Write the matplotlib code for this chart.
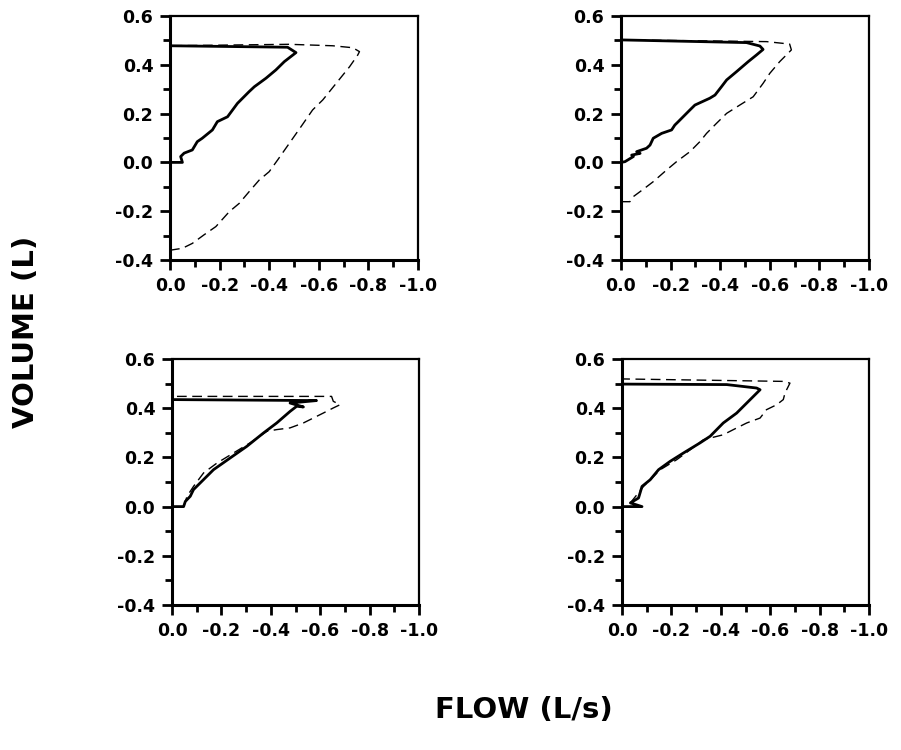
import matplotlib
matplotlib.use("Agg")
import matplotlib.pyplot as plt
from matplotlib.ticker import MultipleLocator

# ---- data (flow L/s, volume L) ----
p1_solid_flow = [0, -0.05, -0.043, -0.057, -0.09, -0.11, -0.13, -0.171, -0.191, -0.232, -0.272, -0.319,
                 -0.34, -0.387, -0.427, -0.461, -0.508, -0.474, 0.0]
p1_solid_vol = [0, 0.0, 0.024, 0.038, 0.051, 0.085, 0.099, 0.133, 0.167, 0.187, 0.242, 0.29,
                0.31, 0.345, 0.379, 0.413, 0.45, 0.472, 0.478]
p1_dash_flow = [0, -0.05, -0.09, -0.137, -0.185, -0.239, -0.279, -0.319, -0.36, -0.4, -0.434, -0.481,
                -0.528, -0.575, -0.616, -0.67, -0.724, -0.757, -0.764, -0.737, -0.656, -0.48, 0.0]
p1_dash_vol = [-0.36, -0.352, -0.332, -0.297, -0.263, -0.202, -0.168, -0.12, -0.072, -0.038, 0.01, 0.078,
               0.146, 0.215, 0.256, 0.324, 0.392, 0.44, 0.454, 0.47, 0.478, 0.484, 0.478]

p2_solid_flow = [0, -0.016, -0.05, -0.043, -0.077, -0.063, -0.103, -0.117, -0.13, -0.164, -0.204, -0.217,
                 -0.231, -0.278, -0.298, -0.358, -0.379, -0.405, -0.426, -0.466, -0.513, -0.546, -0.573,
                 -0.56, -0.506, 0.0]
p2_solid_vol = [0, 0.003, 0.024, 0.03, 0.037, 0.044, 0.058, 0.071, 0.099, 0.119, 0.133, 0.153,
                0.167, 0.215, 0.235, 0.263, 0.276, 0.31, 0.338, 0.372, 0.413, 0.44, 0.463,
                0.477, 0.491, 0.502]
p2_dash_flow = [0, -0.036, -0.05, -0.09, -0.13, -0.184, -0.224, -0.278, -0.318, -0.345, -0.385, -0.426,
                -0.479, -0.533, -0.573, -0.6, -0.64, -0.687, -0.68, -0.587, 0.0]
p2_dash_vol = [-0.161, -0.161, -0.14, -0.11, -0.079, -0.031, 0.003, 0.044, 0.085, 0.119, 0.16, 0.201,
               0.235, 0.269, 0.324, 0.365, 0.413, 0.461, 0.485, 0.495, 0.502]

p3_solid_flow = [0, -0.047, -0.054, -0.074, -0.087, -0.114, -0.168, -0.236, -0.303, -0.37, -0.424,
                 -0.478, -0.505, -0.532, -0.478, -0.585, 0.0]
p3_solid_vol = [0, 0.0, 0.021, 0.042, 0.069, 0.096, 0.15, 0.198, 0.245, 0.299, 0.34,
                0.387, 0.408, 0.405, 0.421, 0.431, 0.435]
p3_dash_flow = [-0.047, -0.061, -0.087, -0.128, -0.182, -0.249, -0.316, -0.384, -0.424, -0.478, -0.532,
                -0.572, -0.612, -0.653, -0.68, -0.653, -0.646, -0.585, 0.0]
p3_dash_vol = [0.0, 0.042, 0.082, 0.137, 0.177, 0.218, 0.259, 0.306, 0.313, 0.32, 0.34,
               0.36, 0.38, 0.401, 0.414, 0.428, 0.448, 0.448, 0.448]

p4_solid_flow = [0, -0.081, -0.034, -0.067, -0.081, -0.114, -0.148, -0.195, -0.249, -0.316, -0.357,
                 -0.41, -0.464, -0.505, -0.532, -0.559, -0.545, -0.424, 0.0]
p4_solid_vol = [0, 0.0, 0.015, 0.035, 0.082, 0.109, 0.15, 0.184, 0.218, 0.259, 0.286,
                0.34, 0.38, 0.421, 0.448, 0.475, 0.482, 0.496, 0.498]
p4_dash_flow = [-0.034, -0.087, -0.155, -0.222, -0.276, -0.33, -0.41, -0.451, -0.505, -0.559, -0.585,
                -0.626, -0.653, -0.66, -0.68, -0.653, 0.0]
p4_dash_vol = [0.015, 0.082, 0.15, 0.191, 0.231, 0.272, 0.292, 0.313, 0.34, 0.36, 0.394,
               0.414, 0.435, 0.462, 0.502, 0.509, 0.519]

x_ticks = [0, -0.2, -0.4, -0.6, -0.8, -1.0]
x_tick_labels = ['0.0', '-0.2', '-0.4', '-0.6', '-0.8', '-1.0']
y_ticks = [-0.4, -0.2, 0.0, 0.2, 0.4, 0.6]
y_tick_labels = ['-0.4', '-0.2', '0.0', '0.2', '0.4', '0.6']

panels = [
    (p1_solid_flow, p1_solid_vol, p1_dash_flow, p1_dash_vol),
    (p2_solid_flow, p2_solid_vol, p2_dash_flow, p2_dash_vol),
    (p3_solid_flow, p3_solid_vol, p3_dash_flow, p3_dash_vol),
    (p4_solid_flow, p4_solid_vol, p4_dash_flow, p4_dash_vol),
]

plt.rcParams['font.family'] = ['DejaVu Sans']
plt.rcParams['font.weight'] = 'bold'

fig = plt.figure(figsize=(9.01, 7.5), dpi=100)
W, H = 901, 750
rects = [
    (170, 16, 418, 260),
    (621, 16, 869, 260),
    (172, 359, 419, 605),
    (622, 359, 869, 605),
]

for (l, t, r, b), (sf, sv, df, dv) in zip(rects, panels):
    ax = fig.add_axes([l / W, 1 - b / H, (r - l) / W, (b - t) / H])
    ax.plot(df, dv, color='black', lw=1.0, ls=(0, (7, 4)))
    ax.plot(sf, sv, color='black', lw=2.0)
    ax.set_xlim(0, -1.0)
    ax.set_ylim(-0.4, 0.6)
    ax.set_xticks(x_ticks)
    ax.set_xticklabels(x_tick_labels, fontweight='bold', fontsize=12.5)
    ax.set_yticks(y_ticks)
    ax.set_yticklabels(y_tick_labels, fontweight='bold', fontsize=12.5)
    ax.xaxis.set_minor_locator(MultipleLocator(0.1))
    ax.yaxis.set_minor_locator(MultipleLocator(0.1))
    ax.tick_params(which='major', direction='out', length=7, width=2, pad=5)
    ax.tick_params(which='minor', direction='out', length=5, width=2)
    for s in ['left', 'bottom']:
        ax.spines[s].set_linewidth(2.2)
    for s in ['top', 'right']:
        ax.spines[s].set_linewidth(1.6)

fig.text(26 / W, 1 - 332 / H, 'VOLUME (L)', rotation=90, ha='center', va='center',
         fontsize=21, fontweight='bold')
fig.text(524 / W, 1 - 710 / H, 'FLOW (L/s)', ha='center', va='center',
         fontsize=21, fontweight='bold')

fig.savefig('out.png', dpi=100)
